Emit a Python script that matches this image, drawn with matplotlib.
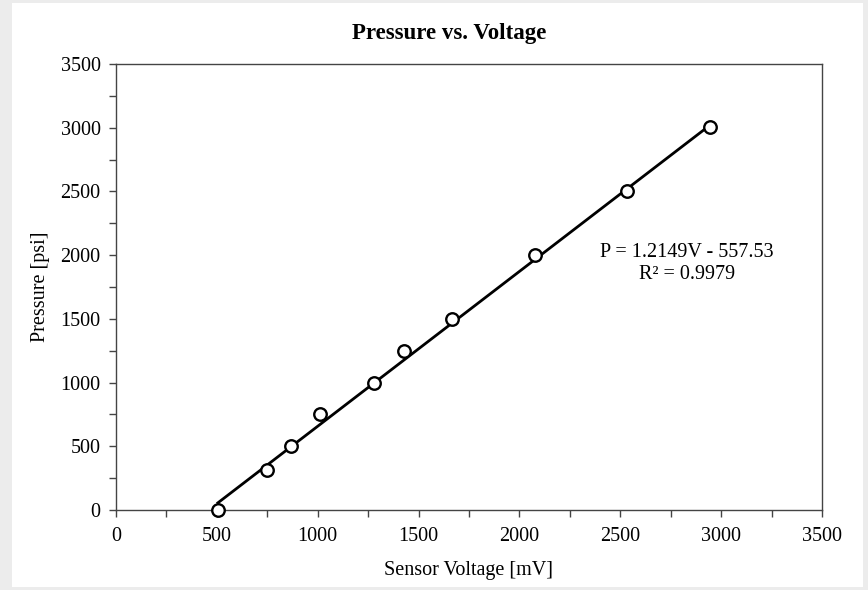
import numpy as np
import matplotlib
matplotlib.use("Agg")
import matplotlib.pyplot as plt
from matplotlib.patches import Rectangle
from matplotlib.ticker import MultipleLocator

# sensor readings
voltage = [505, 748, 866, 1010, 1277, 1426, 1668, 2079, 2535, 2945]
pressure = [0, 314, 502, 753, 997, 1248, 1500, 2000, 2500, 3006]

# trendline from the annotation
slope = 1.2149
intercept = -557.53

plt.rcParams['font.family'] = ['Liberation Serif', 'DejaVu Serif']

fig = plt.figure(figsize=(8.68, 5.9), dpi=100, facecolor='#ececec')
# white chart area inside the grey screenshot frame
fig.patches.append(Rectangle((12/868, 1-587/590), (863-12)/868, (587-3)/590,
                             transform=fig.transFigure, facecolor='white',
                             edgecolor='none', zorder=-5))

ax = fig.add_axes([116/868, 1-510/590, (822-116)/868, (510-64)/590])
ax.set_zorder(1)
ax.set_facecolor('white')

vx = np.array([min(voltage), max(voltage)])
ax.plot(vx, slope*vx + intercept, color='black', lw=2, zorder=2)
ax.plot(voltage, pressure, 'o', mfc='white', mec='black', mew=1.7, ms=9,
        color='black', zorder=3, clip_on=False)

ax.set_xlim(0, 3500)
ax.set_ylim(0, 3500)
ax.xaxis.set_major_locator(MultipleLocator(500))
ax.xaxis.set_minor_locator(MultipleLocator(250))
ax.yaxis.set_major_locator(MultipleLocator(500))
ax.yaxis.set_minor_locator(MultipleLocator(250))
ax.tick_params(which='both', direction='out', length=5, width=1, color='#444444',
               labelsize=14.5, top=False, right=False)
ax.tick_params(axis='x', pad=7)
ax.tick_params(axis='y', pad=6)
for s in ax.spines.values():
    s.set_color('#444444')
    s.set_linewidth(1)

fig.text(449/868, 1-33/590, 'Pressure vs. Voltage', ha='center', va='center',
         fontsize=16.5, fontweight='bold')
fig.text(469/868, 1-570/590, 'Sensor Voltage [mV]', ha='center', va='center',
         fontsize=14.5)
fig.text(40/868, 1-287/590, 'Pressure [psi]', ha='center', va='center',
         fontsize=14.5, rotation=90)

ax.text(2830, 1935, 'P = 1.2149V - 557.53\nR² = 0.9979', ha='center', va='center',
        fontsize=14.5, linespacing=1.2)

fig.savefig('out.png', dpi=100, facecolor=fig.get_facecolor())
